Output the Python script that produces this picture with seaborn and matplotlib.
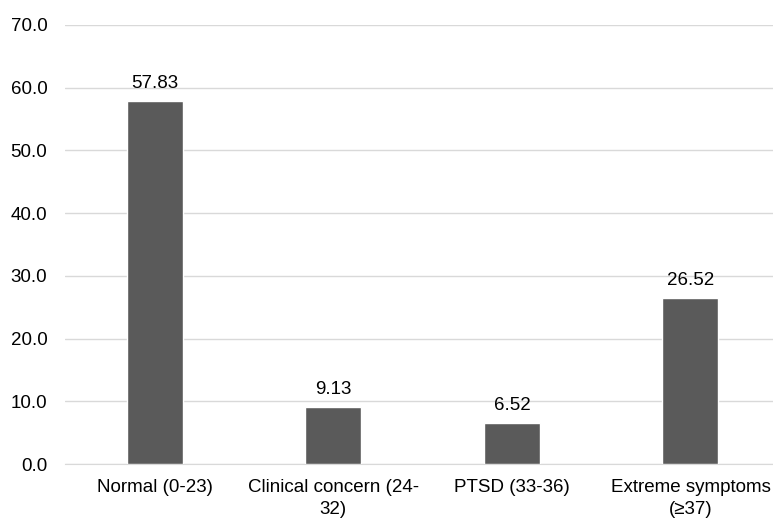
import pandas as pd
import matplotlib.pyplot as plt
import seaborn as sns

# Data
categories = ["Normal (0-23)", "Clinical concern (24-\n32)", "PTSD (33-36)", "Extreme symptoms\n(≥37)"]
values = [57.83, 9.13, 6.52, 26.52]
yticks = [0, 10, 20, 30, 40, 50, 60, 70]

df = pd.DataFrame({"category": categories, "value": values})

sns.set_style("white")
plt.rcParams["font.family"] = ["Liberation Sans", "DejaVu Sans"]
plt.rcParams["text.color"] = "black"
plt.rcParams["xtick.color"] = "black"
plt.rcParams["ytick.color"] = "black"

fig = plt.figure(figsize=(7.73, 5.18), dpi=100)
ax = fig.add_axes([0.0847, 0.104, 0.924, 0.848])

sns.barplot(data=df, x="category", y="value", color="#5a5a5a",
            width=0.314, saturation=1, ax=ax, zorder=3)

for i, v in enumerate(values):
    ax.text(i, v + 1.4, f"{v:.2f}", ha="center", va="bottom",
            fontsize=13.5, color="black")

ax.set_ylim(0, 70)
ax.set_yticks(yticks)
ax.set_yticklabels([f"{t:.1f}" for t in yticks], fontsize=13.5)
ax.tick_params(axis="x", labelsize=13.5, length=0, pad=11)
ax.tick_params(axis="y", length=0, pad=13)
for lbl in ax.get_xticklabels():
    lbl.set_linespacing(1.35)
ax.yaxis.grid(True, color="#d9d9d9", linewidth=1, zorder=0)
ax.set_axisbelow(True)
ax.set_xlabel("")
ax.set_ylabel("")
for s in ["top", "right", "left"]:
    ax.spines[s].set_visible(False)
ax.spines["bottom"].set_color("#d9d9d9")

fig.savefig("out.png", dpi=100)
